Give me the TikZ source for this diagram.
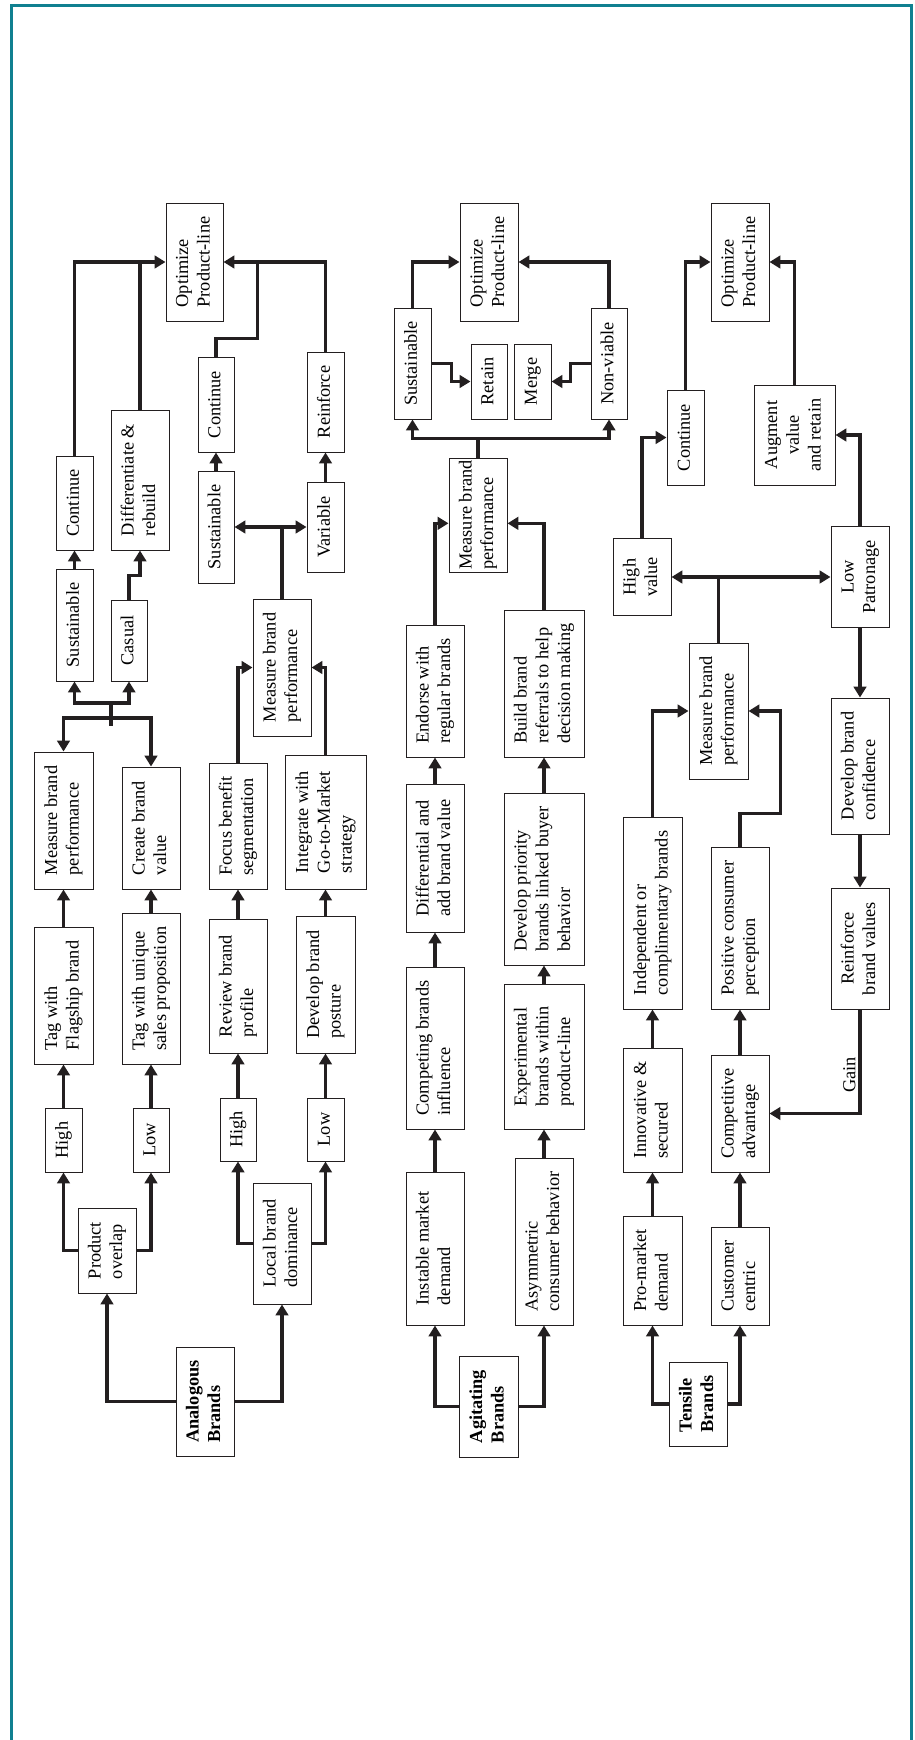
\documentclass[tikz,border=0pt]{standalone}
\usepackage{fontspec}
\setmainfont{Liberation Serif}
\usepackage{graphicx}
\usetikzlibrary{calc, arrows.meta}

\definecolor{frameteal}{RGB}{16,128,144}
\definecolor{inkblack}{RGB}{35,31,32}

% rotated text, read from bottom to top
\newcommand{\vtl}[1]{\rotatebox{90}{\begin{tabular}{@{}l@{}}#1\end{tabular}}}
\newcommand{\vtc}[1]{\rotatebox{90}{\begin{tabular}{@{}c@{}}#1\end{tabular}}}

\begin{document}
\begin{tikzpicture}[
            x=0.6pt, y=-0.6pt, % pixel grid of the page
            >={Triangle[length=6.5pt, width=7.5pt]},
            box_style/.style={draw=inkblack, line width=0.6pt, inner sep=0pt, font=\fontsize{11}{13}\selectfont},
            box_size/.style 2 args={minimum width=#1*0.6pt, minimum height=#2*0.6pt},
            brand_style/.style={box_style, font=\fontsize{11}{13}\selectfont\bfseries},
            edge_style/.style={->, line width=1.9pt, inkblack},
            edge_both/.style={<->, line width=1.9pt, inkblack},
            line_style/.style={line width=1.9pt, inkblack},
            frame_line/.style={line width=1.8pt, frameteal}
        ]
        \useasboundingbox (0,0) rectangle (914,1740);
        \draw[frame_line] (11,1745) -- (11,5) -- (911,5) -- (911,1745);

        % Analogous brands (left band)
        \node[brand_style, box_size={58}{109}] (anaA) at (205,1401.5) {\vtl{Analogous\\Brands}};
        \node[box_style, box_size={58}{85}]  (prodA)   at (107,1250.5) {\vtl{Product\\overlap}};
        \node[box_style, box_size={58}{121}] (localA)  at (282,1243.5) {\vtl{Local brand\\dominance}};
        \node[box_style, box_size={37}{64}]  (highA1)  at (63.5,1140)  {\vtl{High}};
        \node[box_style, box_size={36}{64}]  (lowA1)   at (151,1140)   {\vtl{Low}};
        \node[box_style, box_size={59}{137}] (tagA1)   at (63.5,995.5) {\vtl{Tag with\\Flagship brand}};
        \node[box_style, box_size={58}{151}] (tagA2)   at (151,988.5)  {\vtl{Tag with unique\\sales proposition}};
        \node[box_style, box_size={59}{137}] (measA1)  at (63.5,820.5) {\vtl{Measure brand\\performance}};
        \node[box_style, box_size={58}{122}] (createA) at (151,828)    {\vtl{Create brand\\value}};
        \node[box_style, box_size={37}{112}] (sustA1)  at (74.5,625)   {\vtl{Sustainable}};
        \node[box_style, box_size={36}{81}]  (casA)    at (129,640.5)  {\vtl{Casual}};
        \node[box_style, box_size={37}{94}]  (contA1)  at (74.5,503)   {\vtl{Continue}};
        \node[box_style, box_size={58}{140}] (diffA)   at (140,480)    {\vtl{Differentiate \&\\rebuild}};
        \node[box_style, box_size={57}{118}] (optA)    at (194.5,262)  {\vtl{Optimize\\Product-line}};

        \node[box_style, box_size={36}{63}]  (highA2)  at (238,1129.5)   {\vtl{High}};
        \node[box_style, box_size={37}{63}]  (lowA2)   at (325.5,1129.5) {\vtl{Low}};
        \node[box_style, box_size={58}{134}] (reviewA) at (238,986)      {\vtl{Review brand\\profile}};
        \node[box_style, box_size={59}{137}] (devA)    at (325.5,984.5)  {\vtl{Develop brand\\posture}};
        \node[box_style, box_size={58}{126}] (focusA)  at (238,826)      {\vtl{Focus benefit\\segmentation}};
        \node[box_style, box_size={81}{134}] (intA)    at (325.5,822)    {\vtl{Integrate with\\Go-to-Market\\strategy}};
        \node[box_style, box_size={58}{137}] (measA2)  at (282,667.5)    {\vtl{Measure brand\\performance}};
        \node[box_style, box_size={36}{112}] (sustA2)  at (216,527)      {\vtl{Sustainable}};
        \node[box_style, box_size={37}{90}]  (varA)    at (325.5,527)    {\vtl{Variable}};
        \node[box_style, box_size={36}{95}]  (contA2)  at (216,404.5)    {\vtl{Continue}};
        \node[box_style, box_size={37}{100}] (reinfA)  at (325.5,402)    {\vtl{Reinforce}};

        % Agitating brands (middle band)
        \node[brand_style, box_size={59}{101}] (agitB) at (488.5,1406.5) {\vtl{Agitating\\Brands}};
        \node[box_style, box_size={58}{153}] (instB)   at (435,1248.5) {\vtl{Instable market\\demand}};
        \node[box_style, box_size={58}{167}] (asymB)   at (544,1241.5) {\vtl{Asymmetric\\consumer behavior}};
        \node[box_style, box_size={58}{162}] (compB)   at (435,1048)   {\vtl{Competing brands\\influence}};
        \node[box_style, box_size={80}{145}] (expB)    at (544,1056.5) {\vtl{Experimental\\brands within\\product-line}};
        \node[box_style, box_size={58}{148}] (diffB)   at (435,858)    {\vtl{Differential and\\add brand value}};
        \node[box_style, box_size={80}{172}] (devPriB) at (544,879)    {\vtl{Develop priority\\brands linked buyer\\behavior}};
        \node[box_style, box_size={58}{132}] (endB)    at (435,691)    {\vtl{Endorse with\\regular brands}};
        \node[box_style, box_size={80}{147}] (buildB)  at (544,683.5)  {\vtl{Build brand\\referrals to help\\decision making}};
        \node[box_style, box_size={58}{114}] (measB)   at (478,515)    {\vtl{Measure brand\\performance}};
        \node[box_style, box_size={37}{111}] (sustB)   at (412.5,363.5) {\vtl{Sustainable}};
        \node[box_style, box_size={36}{75}]  (retainB) at (489,381.5)   {\vtl{Retain}};
        \node[box_style, box_size={37}{75}]  (mergeB)  at (532.5,381.5) {\vtl{Merge}};
        \node[box_style, box_size={36}{111}] (nonvB)   at (609,363.5)   {\vtl{Non-viable}};
        \node[box_style, box_size={58}{118}] (optB)    at (489,262)     {\vtl{Optimize\\Product-line}};

        % Tensile brands (right band)
        \node[brand_style, box_size={58}{84}] (tenC) at (698,1404) {\vtl{Tensile\\Brands}};
        \node[box_style, box_size={59}{109}] (proC)   at (652.5,1270.5) {\vtl{Pro-market\\demand}};
        \node[box_style, box_size={58}{98}]  (custC)  at (740,1276)     {\vtl{Customer\\centric}};
        \node[box_style, box_size={59}{124}] (innovC) at (652.5,1110)   {\vtl{Innovative \&\\secured}};
        \node[box_style, box_size={58}{117}] (compC)  at (740,1113.5)   {\vtl{Competitive\\advantage}};
        \node[box_style, box_size={59}{192}] (indC)   at (652.5,913)    {\vtl{Independent or\\complimentary brands}};
        \node[box_style, box_size={58}{162}] (posC)   at (740,928)      {\vtl{Positive consumer\\perception}};
        \node[box_style, box_size={58}{121}] (reinfC) at (860,948.5)    {\vtc{Reinforce\\brand values}};
        \node[box_style, box_size={58}{136}] (devC)   at (860,766)      {\vtl{Develop brand\\confidence}};
        \node[box_style, box_size={59}{136}] (measC)  at (718.5,711)    {\vtl{Measure brand\\performance}};
        \node[box_style, box_size={58}{77}]  (highC)  at (642,577)      {\vtc{High\\value}};
        \node[box_style, box_size={58}{101}] (lowC)   at (860,577)      {\vtc{Low\\Patronage}};
        \node[box_style, box_size={37}{95}]  (contC)  at (685.5,437.5)  {\vtl{Continue}};
        \node[box_style, box_size={81}{100}] (augC)   at (794.5,435)    {\vtc{Augment\\value\\and retain}};
        \node[box_style, box_size={58}{118}] (optC)   at (740,262)      {\vtl{Optimize\\Product-line}};
        \node[font=\fontsize{11}{13}\selectfont, inner sep=0pt] (gain) at (849.5,1075) {\rotatebox{90}{Gain}};

        % Edges, analogous
        \draw[edge_style] (anaA.west) -| (prodA.south);
        \draw[edge_style] (anaA.east) -| (localA.south);
        \draw[edge_style] (prodA.west) -| (highA1.south);
        \draw[edge_style] (prodA.east) -| (lowA1.south);
        \draw[edge_style] (localA.west) -| (highA2.south);
        \draw[edge_style] (localA.east) -| (lowA2.south);
        \foreach \u/\v in {highA1/tagA1, tagA1/measA1, lowA1/tagA2, tagA2/createA, sustA1/contA1,
                           highA2/reviewA, reviewA/focusA, lowA2/devA, devA/intA,
                           sustA2/contA2, varA/reinfA} {
                \draw[edge_style] (\u.north) -- (\v.south);
            }

        % double fork between the measure/create row and the sustainable/casual row
        \coordinate (forkA_up) at (111,703);
        \coordinate (forkA_low) at (111,718);
        \draw[line_style] (forkA_up) -- ++(0,23);
        \draw[edge_style] (forkA_up) -| (sustA1.south);
        \draw[edge_style] (forkA_up) -| (casA.south);
        \draw[edge_style] (forkA_low) -| (measA1.north);
        \draw[edge_style] (forkA_low) -| (createA.north);

        \draw[edge_style] (contA1.north) |- (optA.west);
        \draw[edge_style] (casA.north) -- ++(0,-24) -| (diffA.south);
        \draw[line_style] (diffA.north) -- (diffA.north |- optA.west);

        \draw[edge_style] (focusA.north) |- (measA2.west);
        \draw[edge_style] (intA.north) |- (measA2.east);
        \draw[line_style] (measA2.north) -- (measA2.north |- sustA2.east);
        \draw[edge_both] (sustA2.east) -- (varA.west);
        \draw[edge_style] (reinfA.north) |- (optA.east);
        \draw[line_style] (contA2.north) -- ++(0,-18) -| ($(optA.east)+(34,0)$);

        % Edges, agitating
        \draw[edge_style] (agitB.west) -| (instB.south);
        \draw[edge_style] (agitB.east) -| (asymB.south);
        \foreach \u/\v in {instB/compB, compB/diffB, diffB/endB, asymB/expB, expB/devPriB, devPriB/buildB} {
                \draw[edge_style] (\u.north) -- (\v.south);
            }
        \draw[edge_style] (endB.north) |- ([yshift=-5pt]measB.west);
        \draw[edge_style] (buildB.north) |- ([yshift=-5pt]measB.east);
        \coordinate (forkB) at ($(measB.north)+(0,-19)$);
        \draw[line_style] (measB.north) -- (forkB);
        \draw[edge_style] (forkB) -| (sustB.south);
        \draw[edge_style] (forkB) -| (nonvB.south);
        \draw[edge_style] (sustB.north) |- (optB.west);
        \draw[edge_style] (nonvB.north) |- (optB.east);
        \draw[edge_style] (sustB.east) -- ++(20,0) |- (retainB.west);
        \draw[edge_style] (nonvB.west) -- ++(-20,0) |- (mergeB.east);

        % Edges, tensile
        \draw[edge_style] (tenC.west) -| (proC.south);
        \draw[edge_style] (tenC.east) -| (custC.south);
        \foreach \u/\v in {proC/innovC, innovC/indC, custC/compC, compC/posC} {
                \draw[edge_style] (\u.north) -- (\v.south);
            }
        \draw[edge_style] (indC.north) |- (measC.west);
        \draw[edge_style] (posC.north) -- ++(0,-33) -| ($(measC.east)+(32,0)$) -- (measC.east);
        \draw[line_style] (measC.north) -- (measC.north |- highC.east);
        \draw[edge_both] (highC.east) -- (lowC.west);
        \draw[edge_style] (highC.north) |- (contC.west);
        \draw[edge_style] (lowC.north) |- (augC.east);
        \draw[edge_style] (contC.north) |- (optC.west);
        \draw[edge_style] (augC.north) |- (optC.east);
        \draw[edge_style] (lowC.south) -- (devC.north);
        \draw[edge_style] (devC.south) -- (reinfC.north);
        \draw[edge_style] (reinfC.south) |- (compC.east);

    \end{tikzpicture}
\end{document}
